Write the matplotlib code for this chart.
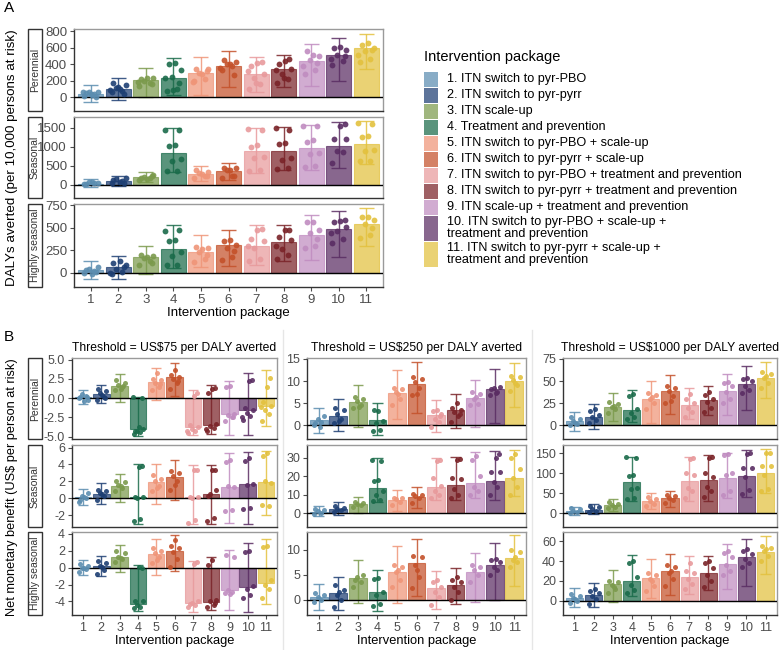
import matplotlib
matplotlib.use("Agg")
import matplotlib.pyplot as plt
from matplotlib.lines import Line2D
from matplotlib.patches import Rectangle

plt.rcParams['font.family'] = ['Liberation Sans', 'DejaVu Sans']
plt.rcParams['axes.unicode_minus'] = False

# ---------------- data ----------------
packages = list(range(1, 12))
tick_labels = [str(p) for p in packages]
legend_labels = [
    "1. ITN switch to pyr-PBO",
    "2. ITN switch to pyr-pyrr",
    "3. ITN scale-up",
    "4. Treatment and prevention",
    "5. ITN switch to pyr-PBO + scale-up",
    "6. ITN switch to pyr-pyrr + scale-up",
    "7. ITN switch to pyr-PBO + treatment and prevention",
    "8. ITN switch to pyr-pyrr + treatment and prevention",
    "9. ITN scale-up + treatment and prevention",
    "10. ITN switch to pyr-PBO + scale-up +\ntreatment and prevention",
    "11. ITN switch to pyr-pyrr + scale-up +\ntreatment and prevention",
]
colors = ['#5b8db0', '#1e3f73', '#7b9a4c', '#1a6b4a', '#ef9578', '#c4512a',
          '#e89a9c', '#7a2328', '#c08cc0', '#5a2d63', '#e3c13e']
settings = ["Perennial", "Seasonal", "Highly seasonal"]
thresholds = ["Threshold = US$75 per DALY averted",
              "Threshold = US$250 per DALY averted",
              "Threshold = US$1000 per DALY averted"]

# Panel A: DALYs averted per 10,000
a_per_mean = [45, 100, 210, 240, 300, 385, 290, 340, 440, 515, 595]
a_per_lo = [-55, -35, 10, 35, 30, 130, 70, 130, 140, 195, 340]
a_per_hi = [155, 240, 355, 475, 495, 565, 495, 520, 645, 725, 775]
a_per_pts = [[20, 40, 60, 70, 50, 30, 10, 65, 45],
             [60, 80, 120, 150, 180, 100, 40, 90, 130],
             [140, 170, 200, 230, 220, 240, 160, 190],
             [80, 100, 250, 330, 410, 420, 180, 240, 90],
             [200, 220, 300, 340, 350, 280, 320, 190],
             [330, 380, 400, 430, 450, 410, 270, 360],
             [100, 160, 230, 290, 380, 420, 430, 320, 170],
             [170, 220, 280, 340, 400, 440, 460, 330, 240],
             [280, 330, 450, 500, 560, 510, 420, 380],
             [390, 440, 520, 580, 600, 610, 500, 470],
             [430, 470, 560, 600, 640, 660, 580, 520]]

a_sea_mean = [30, 90, 200, 840, 295, 375, 880, 900, 960, 1020, 1070]
a_sea_lo = [-70, -20, 60, 330, 100, 130, 320, 390, 400, 430, 540]
a_sea_hi = [160, 220, 340, 1490, 500, 565, 1500, 1530, 1590, 1650, 1680]
a_sea_pts = [[20, 50, 80, 40, 10, 60],
             [50, 100, 150, 180, 120, 70, 40],
             [130, 170, 210, 250, 190, 150, 230],
             [360, 370, 640, 670, 1030, 1040, 1440, 1450],
             [170, 240, 300, 350, 380, 280, 220],
             [190, 230, 400, 430, 450, 380, 220],
             [360, 380, 700, 740, 1000, 1060, 1450, 1460],
             [420, 450, 660, 720, 1080, 1100, 1450, 1500],
             [470, 500, 810, 850, 1140, 1180, 1540, 1560],
             [580, 870, 900, 1200, 1220, 1560, 1600],
             [620, 640, 890, 920, 1260, 1300, 1600, 1620]]

a_hs_mean = [25, 60, 170, 265, 230, 305, 300, 340, 425, 490, 545]
a_hs_lo = [-75, -70, -15, 55, 60, 70, 90, 130, 140, 170, 300]
a_hs_hi = [125, 180, 300, 530, 420, 470, 530, 530, 645, 690, 720]
a_hs_pts = [[0, 20, 40, 60, 30, -10, 10],
            [-20, 10, 40, 80, 110, 130, 60, 0],
            [90, 130, 160, 190, 200, 170, 110],
            [80, 90, 190, 230, 350, 360, 470, 460],
            [120, 150, 230, 280, 290, 260, 200],
            [140, 170, 280, 310, 350, 360, 240],
            [130, 150, 270, 350, 370, 480, 490, 300],
            [150, 200, 260, 360, 400, 470, 480, 300],
            [280, 300, 440, 480, 560, 560, 380],
            [330, 370, 460, 510, 560, 580, 590, 440],
            [390, 420, 540, 590, 620, 620, 500]]

# Panel B, threshold US$75
b75_per_mean = [0.2, 0.5, 1.6, -4.05, 2.1, 2.7, -3.75, -3.5, -2.1, -1.5, -1.0]
b75_per_lo = [-0.75, -0.65, -0.5, -4.9, -0.3, 0.3, -4.8, -4.6, -4.75, -4.75, -3.6]
b75_per_hi = [1.1, 1.7, 3.1, 0.2, 3.9, 4.5, 1.0, 1.7, 2.2, 3.2, 3.6]
b75_per_pts = [[0.0, 0.3, 0.5, -0.2, 0.2, -0.4, 0.1],
               [-0.3, 0.2, 0.6, 0.9, 1.2, 0.4, 0.0],
               [1.0, 1.4, 1.7, 2.0, 2.3, 1.2, 1.6],
               [-4.6, -4.4, -4.2, -4.0, -4.3, -3.8, 0.0, 0.1],
               [1.0, 1.5, 2.0, 2.3, 2.5, 3.2, 1.8],
               [1.2, 2.0, 2.5, 2.8, 3.0, 3.6, 2.2],
               [-4.5, -4.2, -4.0, -3.8, -3.5, 0.3, 0.6, -4.3],
               [-4.2, -3.9, -3.6, -3.4, 0.6, 1.2, 1.3, -4.0],
               [-3.0, -2.5, -2.2, -2.0, 1.5, 1.6, -2.4],
               [-2.8, -2.3, -1.9, -1.5, -1.3, 2.2, 2.3, -2.5],
               [-3.0, -2.0, -1.5, -1.0, -0.5, 1.5, 2.6, -1.2]]

b75_sea_mean = [0.15, 0.55, 1.5, 0.1, 1.9, 2.55, 0.15, 0.5, 1.35, 1.65, 1.9]
b75_sea_lo = [-0.8, -0.65, -0.4, -3.0, -0.7, -0.2, -3.1, -3.0, -2.9, -3.0, -2.0]
b75_sea_hi = [1.15, 1.75, 2.9, 4.1, 4.1, 4.5, 3.9, 3.9, 5.3, 5.5, 5.6]
b75_sea_pts = [[-0.4, 0.0, 0.3, 0.6, -0.2, 0.2],
               [-0.2, 0.3, 0.6, 0.9, 1.0, 0.5],
               [0.9, 1.2, 1.6, 1.9, 2.1, 1.4],
               [-2.7, -2.5, 0.0, 0.1, 0.2, 3.7, 3.8],
               [0.8, 1.5, 2.0, 2.3, 2.7, 1.2],
               [1.0, 2.0, 2.6, 3.0, 3.2, 1.6],
               [-2.9, -2.6, 0.0, 0.1, 0.2, 3.4, 3.4],
               [-2.7, -2.3, 0.5, 1.0, 0.3, 3.4, 3.3],
               [-1.5, -1.4, 1.4, 1.3, 4.3, 4.5],
               [-1.3, -1.2, 1.6, 1.7, 4.4, 4.8],
               [-0.8, -0.9, 2.0, 1.8, 5.0, 5.3]]

b75_hs_mean = [0.0, 0.2, 1.3, -4.3, 1.6, 2.0, -4.2, -4.1, -2.7, -2.3, -1.8]
b75_hs_lo = [-0.9, -1.0, -0.5, -5.1, -0.9, -0.4, -5.2, -5.0, -5.0, -5.2, -4.3]
b75_hs_hi = [0.9, 1.4, 2.7, 0.3, 3.4, 3.8, 0.8, 1.3, 2.1, 2.9, 3.4]
b75_hs_pts = [[-0.5, -0.2, 0.0, 0.2, 0.4, -0.1],
              [-0.8, -0.3, 0.2, 0.5, 0.8, 0.1],
              [0.6, 1.0, 1.3, 1.7, 2.0, 1.1],
              [-4.8, -4.6, -4.4, -4.0, -3.9, 0.1, 0.0],
              [0.5, 1.2, 1.7, 2.0, 2.3, 0.9],
              [0.1, 1.0, 1.8, 2.3, 2.6, 3.2],
              [-4.6, -4.4, -4.2, -4.0, -4.3, 0.4, 0.6],
              [-4.6, -4.4, -4.0, -3.8, 0.3, 0.9, -4.2],
              [-3.0, -2.9, -2.6, 1.3, 1.5, -3.1],
              [-3.6, -3.2, -2.5, -2.2, 1.8, 1.9],
              [-3.6, -2.5, -2.0, -1.5, 2.4, 2.5]]

# Panel B, threshold US$250
b250_per_mean = [1.1, 2.2, 5.3, 1.1, 7.2, 9.4, 2.3, 3.4, 6.1, 8.1, 9.9]
b250_per_lo = [-1.7, -1.3, -0.4, -2.3, 1.5, 2.8, -1.5, -0.6, -0.4, 0.5, 4.2]
b250_per_hi = [3.8, 5.9, 9.2, 5.0, 12.6, 14.4, 5.6, 7.1, 10.3, 12.8, 14.1]
b250_per_pts = [[0.0, 0.8, 1.5, 2.0, 0.5, -0.5],
                [0.5, 1.5, 2.5, 3.5, 4.0, 1.0],
                [3.8, 4.5, 5.5, 6.0, 6.5, 4.2],
                [-1.3, -1.0, 0.5, 1.0, 3.4, 3.3],
                [4.5, 6.0, 7.5, 8.2, 8.5, 7.0],
                [6.8, 8.5, 9.8, 10.4, 10.8, 7.0],
                [-0.5, 0.8, 1.5, 2.5, 3.3, 3.5, 2.0],
                [0.8, 2.0, 3.0, 3.5, 4.0, 5.0, 2.5],
                [4.5, 4.8, 6.0, 7.0, 7.5, 6.5],
                [6.8, 7.5, 8.5, 8.7, 8.2, 7.2],
                [7.8, 9.0, 10.2, 10.8, 11.2, 9.5]]

b250_sea_mean = [0.8, 2.2, 5.0, 13.7, 7.0, 9.0, 14.3, 15.2, 16.2, 17.5, 19.2]
b250_sea_lo = [-1.5, -1.0, 0.2, 6.0, 1.0, 2.8, 7.0, 7.0, 8.5, 7.0, 9.5]
b250_sea_hi = [3.8, 5.8, 8.8, 30.0, 12.8, 14.3, 30.0, 30.5, 33.0, 34.0, 34.5]
b250_sea_pts = [[-0.5, 0.3, 1.0, 1.5, 2.0],
                [0.5, 1.5, 2.5, 3.0, 4.0],
                [3.5, 4.5, 5.0, 5.5, 6.0],
                [6.5, 7.0, 10.0, 12.0, 17.5, 18.0, 28.5, 29.0],
                [4.5, 6.0, 7.5, 8.0, 8.5],
                [5.5, 8.0, 9.5, 10.0, 10.5],
                [8.0, 10.0, 12.0, 15.0, 19.0, 28.5, 29.0],
                [8.0, 10.0, 13.0, 18.5, 19.0, 29.0, 29.5],
                [10.0, 12.0, 14.0, 20.0, 29.0, 31.0],
                [10.0, 14.0, 17.0, 22.5, 22.5, 30.0, 32.0],
                [10.0, 14.0, 19.0, 24.0, 30.0, 32.0]]

b250_hs_mean = [0.6, 1.4, 4.3, 1.6, 5.6, 7.4, 2.3, 3.0, 5.6, 6.9, 8.3]
b250_hs_lo = [-2.1, -2.0, -0.7, -2.2, -0.6, 0.8, -1.8, -0.8, -0.4, 0.0, 2.8]
b250_hs_hi = [3.1, 4.5, 7.9, 5.9, 10.8, 12.1, 5.7, 6.3, 9.4, 11.4, 12.9]
b250_hs_pts = [[-0.5, 0.0, 0.5, 1.0, 1.3],
               [-1.5, 0.0, 1.0, 2.0, 3.0, 1.5],
               [2.5, 3.5, 4.5, 5.0, 4.0],
               [-1.3, -0.8, 1.0, 1.5, 4.2, 4.4],
               [2.5, 4.0, 5.5, 6.5, 7.0, 6.0],
               [2.3, 4.5, 7.0, 8.5, 8.8, 6.0],
               [-1.0, 0.5, 1.5, 2.5, 3.5, 4.0],
               [0.0, 1.5, 2.5, 3.5, 4.0, 4.5],
               [3.5, 5.0, 6.0, 6.5, 7.0],
               [5.0, 6.0, 6.5, 7.5, 8.0, 8.2],
               [6.5, 7.5, 8.0, 9.5, 10.0, 8.5]]

# Panel B, threshold US$1000
b1000_per_mean = [4.5, 9.5, 21, 17.5, 30, 38.5, 23.5, 28.5, 38.5, 46.5, 54]
b1000_per_lo = [-6.5, -4.5, 5.5, 3.5, 3.0, 13, 7.0, 12, 12, 17, 31]
b1000_per_hi = [15.5, 24, 36, 40, 50, 57, 42, 44.5, 58, 67, 72]
b1000_per_pts = [[0, 2, 5, 7, 9, 3],
                 [3, 6, 9, 12, 16, 18],
                 [14, 18, 21, 24, 26, 22],
                 [7, 10, 14, 18, 33, 35],
                 [18, 25, 30, 34, 36, 32],
                 [25, 33, 39, 42, 44, 27],
                 [10, 15, 20, 25, 30, 35],
                 [15, 20, 26, 30, 34, 38],
                 [25, 30, 38, 44, 48, 49],
                 [36, 40, 45, 50, 52, 53],
                 [42, 48, 54, 58, 60, 56]]

b1000_sea_mean = [4, 8, 20, 77, 30, 38, 80, 83, 88, 93, 100]
b1000_sea_lo = [-6, -3, 6, 30, 10, 14, 30, 30, 38, 40, 50]
b1000_sea_hi = [16, 22, 35, 142, 50, 56, 140, 145, 152, 158, 162]
b1000_sea_pts = [[0, 3, 6, 9, 12],
                 [2, 6, 10, 14, 18],
                 [12, 16, 20, 24, 28],
                 [35, 38, 60, 62, 94, 96, 138, 140],
                 [18, 24, 30, 35, 40],
                 [25, 33, 38, 42, 45],
                 [38, 55, 62, 95, 100, 135, 138],
                 [40, 55, 65, 90, 100, 138, 140],
                 [45, 55, 95, 100, 145, 148],
                 [48, 57, 90, 112, 113, 148, 150],
                 [55, 60, 95, 117, 118, 150, 152]]

b1000_hs_mean = [2.5, 5.5, 16.5, 20, 23, 30, 24, 27.5, 37, 44, 49.5]
b1000_hs_lo = [-7, -7, -1.5, 5, 3, 6, 7, 11, 12, 15, 27]
b1000_hs_hi = [12.5, 18, 30.5, 46, 42, 47, 45, 45.5, 57.5, 62, 65.5]
b1000_hs_pts = [[-2, 0, 3, 5, 7, 2],
                [-3, 2, 5, 8, 10, 12],
                [8, 12, 16, 19, 20, 14],
                [8, 11, 16, 24, 38, 40],
                [10, 15, 22, 26, 28, 20],
                [15, 22, 28, 34, 36, 30],
                [12, 17, 22, 28, 30, 38],
                [14, 20, 26, 33, 38, 40],
                [26, 30, 36, 44, 48, 50],
                [34, 38, 42, 47, 50, 52],
                [40, 45, 50, 53, 55, 52]]

# ---------------- styling ----------------
W, H = 782, 650
fig = plt.figure(figsize=(W / 100, H / 100), dpi=100)
JIT = [-0.24, 0.14, -0.06, 0.27, -0.17, 0.05, 0.21, -0.29, 0.0, 0.1, -0.12, 0.25]
TICK_C = '#4d4d4d'


def add_ax(l, t, r, b):
    return fig.add_axes([l / W, 1 - b / H, (r - l) / W, (b - t) / H])


def draw_panel(ax, mean, lo, hi, pts, ylim, yticks, yticklabels=None,
               bottom=False, fs=9, ms=3.6):
    ax.bar(packages, mean, width=0.9, color=colors, alpha=0.72,
           edgecolor=colors, linewidth=0.8, zorder=2)
    for i, p in enumerate(packages):
        c = colors[i]
        ax.vlines(p, lo[i], hi[i], color=c, lw=1.0, alpha=0.85, zorder=3)
        ax.hlines([lo[i], hi[i]], p - 0.27, p + 0.27, color=c, lw=1.0,
                  alpha=0.85, zorder=3)
        xs = [p + JIT[k % len(JIT)] for k in range(len(pts[i]))]
        ax.plot(xs, pts[i], 'o', color=c, ms=ms, mew=0, alpha=0.9, zorder=4)
    ax.axhline(0, color='black', lw=1.0, zorder=3)
    ax.set_xlim(0.4, 11.6)
    ax.set_ylim(*ylim)
    ax.set_yticks(yticks)
    if yticklabels is not None:
        ax.set_yticklabels(yticklabels)
    ax.tick_params(axis='y', labelsize=fs, colors=TICK_C, length=3, width=0.8,
                   pad=2)
    ax.set_xticks(packages)
    if bottom:
        ax.set_xticklabels(tick_labels)
        ax.tick_params(axis='x', labelsize=fs, colors=TICK_C, length=3,
                       width=0.8, pad=2)
    else:
        ax.tick_params(axis='x', length=0, labelbottom=False)
    for s in ['top', 'right']:
        ax.spines[s].set_color('#9a9a9a')
        ax.spines[s].set_linewidth(1.0)
    for s in ['left', 'bottom']:
        ax.spines[s].set_color('#333333')
        ax.spines[s].set_linewidth(1.0)
    ax.set_facecolor('white')


def strip(t, b, text):
    x0, x1 = 28, 42
    fig.add_artist(Rectangle((x0 / W, 1 - b / H), (x1 - x0) / W, (b - t) / H,
                             transform=fig.transFigure, fill=False,
                             edgecolor='#333333', lw=1.0))
    fig.text((x0 + x1) / 2 / W, 1 - (t + b) / 2 / H, text, rotation=90,
             ha='center', va='center', fontsize=7.5, color='#333333')


# ---------------- Panel A ----------------
fig.text(4 / W, 1 - 8 / H, "A", fontsize=11, va='center', ha='left')
rowsA = [(29, 111), (117, 198), (204, 287)]
a_data = [(a_per_mean, a_per_lo, a_per_hi, a_per_pts, (-165, 830), [0, 200, 400, 600, 800]),
          (a_sea_mean, a_sea_lo, a_sea_hi, a_sea_pts, (-350, 1790), [0, 500, 1000, 1500]),
          (a_hs_mean, a_hs_lo, a_hs_hi, a_hs_pts, (-160, 765), [0, 250, 500, 750])]
for r, (t, b) in enumerate(rowsA):
    ax = add_ax(74, t, 383, b)
    m, lo, hi, pts, yl, yt = a_data[r]
    draw_panel(ax, m, lo, hi, pts, yl, yt, bottom=(r == 2), fs=9.5, ms=4.2)
    strip(t, b, settings[r])
    if r == 2:
        ax.set_xlabel("Intervention package", fontsize=9.5, labelpad=1)
fig.text(12 / W, 1 - 158 / H, "DALYs averted (per 10,000 persons at risk)",
         rotation=90, ha='center', va='center', fontsize=9.6)

# legend
fig.text(424 / W, 1 - 57 / H, "Intervention package", fontsize=10.5,
         ha='left', va='center')
ly = 71
for i, lab in enumerate(legend_labels):
    nlines = lab.count("\n") + 1
    h = 16 * nlines if nlines == 1 else 26
    fig.add_artist(Rectangle((424 / W, 1 - (ly + h) / H), 14 / W, (h - 1) / H,
                             transform=fig.transFigure, facecolor=colors[i],
                             alpha=0.72, edgecolor='none'))
    fig.text(447 / W, 1 - (ly + h / 2) / H, lab, fontsize=9.1, ha='left',
             va='center', linespacing=1.0)
    ly += h

# ---------------- Panel B ----------------
fig.text(4 / W, 1 - 337 / H, "B", fontsize=11, va='center', ha='left')
rowsB = [(358, 439), (445, 527), (532, 615)]
colsB = [(72, 277), (307, 526), (563, 777)]
b_data = [
    [(b75_per_mean, b75_per_lo, b75_per_hi, b75_per_pts, (-5.3, 5.2), [-5, -2.5, 0, 2.5, 5],
      ['-5.0', '-2.5', '0.0', '2.5', '5.0']),
     (b75_sea_mean, b75_sea_lo, b75_sea_hi, b75_sea_pts, (-3.4, 6.3), [-2, 0, 2, 4, 6], None),
     (b75_hs_mean, b75_hs_lo, b75_hs_hi, b75_hs_pts, (-5.6, 4.2), [-4, -2, 0, 2, 4], None)],
    [(b250_per_mean, b250_per_lo, b250_per_hi, b250_per_pts, (-3.1, 15.2), [0, 5, 10, 15], None),
     (b250_sea_mean, b250_sea_lo, b250_sea_hi, b250_sea_pts, (-7.5, 37), [0, 10, 20, 30], None),
     (b250_hs_mean, b250_hs_lo, b250_hs_hi, b250_hs_pts, (-3.0, 13.5), [0, 5, 10], None)],
    [(b1000_per_mean, b1000_per_lo, b1000_per_hi, b1000_per_pts, (-15.3, 76), [0, 25, 50, 75], None),
     (b1000_sea_mean, b1000_sea_lo, b1000_sea_hi, b1000_sea_pts, (-35, 171), [0, 50, 100, 150], None),
     (b1000_hs_mean, b1000_hs_lo, b1000_hs_hi, b1000_hs_pts, (-14.6, 69.5), [0, 20, 40, 60], None)],
]
for c, (l, rr) in enumerate(colsB):
    for r, (t, b) in enumerate(rowsB):
        ax = add_ax(l, t, rr, b)
        m, lo, hi, pts, yl, yt, ytl = b_data[c][r]
        draw_panel(ax, m, lo, hi, pts, yl, yt, ytl, bottom=(r == 2), fs=9,
                   ms=3.6)
        if r == 0:
            ax.set_title(thresholds[c], fontsize=8.75, pad=5)
        if r == 2:
            ax.set_xlabel("Intervention package", fontsize=9.3, labelpad=1)
        if c == 0:
            strip(t, b, settings[r])
fig.text(12 / W, 1 - 487 / H, "Net monetary benefit (US$ per person at risk)",
         rotation=90, ha='center', va='center', fontsize=9.2)

# faint separators between the B columns
for xs in (283, 532):
    fig.add_artist(Line2D([xs / W, xs / W], [0, 1 - 330 / H],
                          transform=fig.transFigure, color='#e6e6e6', lw=1))

fig.savefig("out.png", dpi=100, facecolor='white')
